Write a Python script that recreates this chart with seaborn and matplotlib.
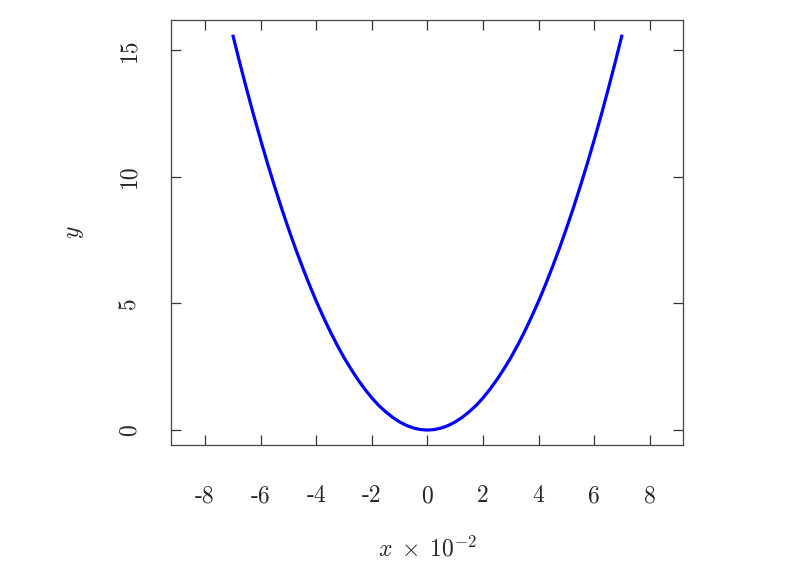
import matplotlib
matplotlib.use("Agg")
import matplotlib.pyplot as plt
import seaborn as sns
import pandas as pd

# Data (x in units of 1e-2)
x_vals = [-7.0, -6.75, -6.5, -6.25, -6.0, -5.75, -5.5, -5.25, -5.0, -4.75, -4.5, -4.25, -4.0,
          -3.75, -3.5, -3.25, -3.0, -2.75, -2.5, -2.25, -2.0, -1.75, -1.5, -1.25, -1.0, -0.75,
          -0.5, -0.25, 0.0, 0.25, 0.5, 0.75, 1.0, 1.25, 1.5, 1.75, 2.0, 2.25, 2.5, 2.75, 3.0,
          3.25, 3.5, 3.75, 4.0, 4.25, 4.5, 4.75, 5.0, 5.25, 5.5, 5.75, 6.0, 6.25, 6.5, 6.75, 7.0]
y_vals = [15.60, 14.50, 13.45, 12.43, 11.46, 10.52, 9.63, 8.77, 7.96, 7.18, 6.45, 5.75, 5.09,
          4.48, 3.90, 3.36, 2.86, 2.41, 1.99, 1.61, 1.27, 0.97, 0.72, 0.50, 0.32, 0.18,
          0.08, 0.02, 0.00, 0.02, 0.08, 0.18, 0.32, 0.50, 0.72, 0.97, 1.27, 1.61, 1.99, 2.41, 2.86,
          3.36, 3.90, 4.48, 5.09, 5.75, 6.45, 7.18, 7.96, 8.77, 9.63, 10.52, 11.46, 12.43, 13.45, 14.50, 15.60]
x_ticks = [-8, -6, -4, -2, 0, 2, 4, 6, 8]
x_ticklabels = ["-8", "-6", "-4", "-2", "0", "2", "4", "6", "8"]
y_ticks = [0, 5, 10, 15]
y_ticklabels = ["0", "5", "10", "15"]

sns.set_theme(style="white")
plt.rcParams["mathtext.fontset"] = "cm"
plt.rcParams["font.family"] = ["cmr10", "DejaVu Serif"]
plt.rcParams["axes.unicode_minus"] = False

df = pd.DataFrame({"x": x_vals, "y": y_vals})

fig = plt.figure(figsize=(8, 5.76), dpi=100)
ax = fig.add_axes([171/800, 1 - 445/576, (683-171)/800, (445-20)/576])

sns.lineplot(data=df, x="x", y="y", ax=ax, color="#0000ff", linewidth=2.3, sort=False,
             estimator=None, solid_joinstyle="round", solid_capstyle="butt")

ax.set_xlim(-9.22, 9.19)
ax.set_ylim(-0.59, 16.18)

ax.set_xticks(x_ticks)
ax.set_xticklabels(x_ticklabels, fontsize=17)
ax.set_yticks(y_ticks)
ax.set_yticklabels(y_ticklabels, fontsize=17, rotation=90, va="center")

ax.tick_params(axis="both", which="major", direction="in", length=7, width=0.9,
               color="#333333", top=True, right=True, bottom=True, left=True,
               labeltop=False, labelright=False)
ax.tick_params(axis="x", pad=29)
ax.tick_params(axis="y", pad=22)

for s in ax.spines.values():
    s.set_visible(True)
    s.set_color("#444444")
    s.set_linewidth(0.9)

ax.set_xlabel(r"$x\;\times\;10^{-2}$", fontsize=17, labelpad=21)
ax.set_ylabel(r"$y$", fontsize=17, labelpad=23)
ax.grid(False)

fig.savefig("out.png", dpi=100, facecolor="white")
